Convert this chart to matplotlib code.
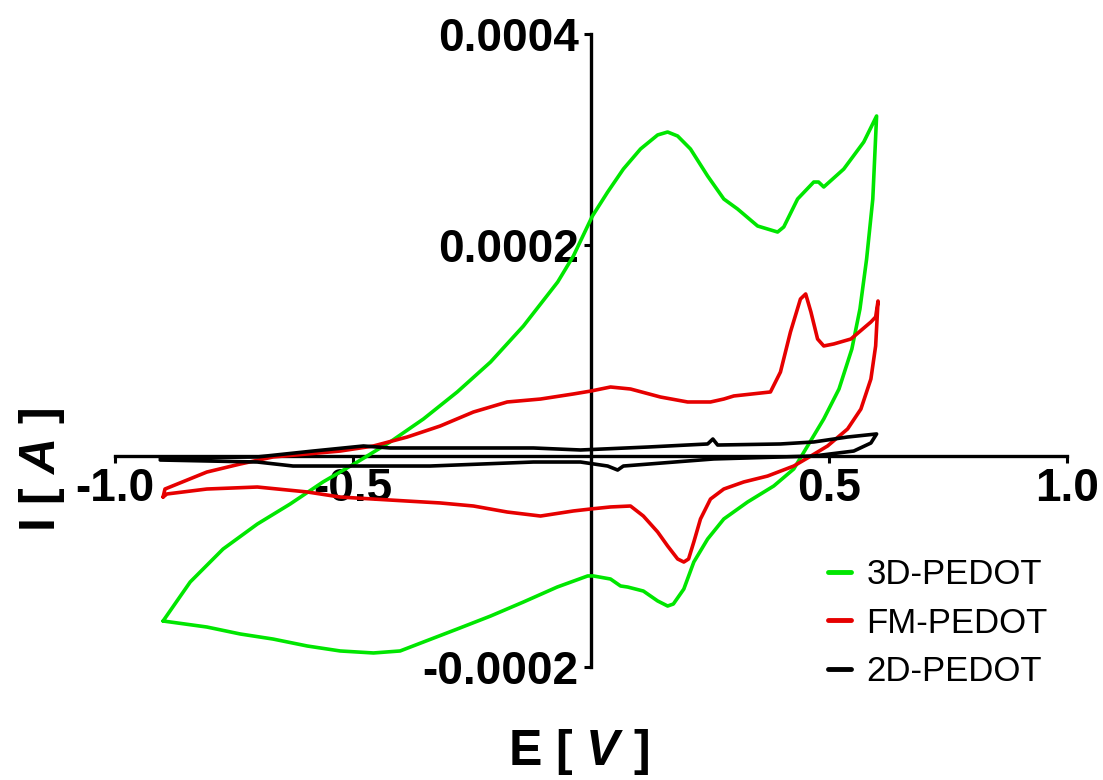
import matplotlib
matplotlib.use('Agg')
import matplotlib.pyplot as plt
import numpy as np

plt.rcParams['font.family'] = ['Liberation Sans', 'DejaVu Sans']
plt.rcParams['mathtext.fontset'] = 'custom'
plt.rcParams['mathtext.it'] = 'Liberation Sans:italic:bold'
plt.rcParams['mathtext.rm'] = 'Liberation Sans:bold'
plt.rcParams['mathtext.bf'] = 'Liberation Sans:bold'

series_names = ['3D-PEDOT', 'FM-PEDOT', '2D-PEDOT']
series_colors = ['#00e600', '#e60000', '#000000']

# currents in units of 1e-4 A
I_UNIT = 1e-4

pedot3d_E = [-0.899, -0.842, -0.773, -0.701, -0.632, -0.563, -0.491, -0.422, -0.352, -0.281,
             -0.211, -0.142, -0.070, -0.037, 0.003, 0.035, 0.068, 0.104, 0.140, 0.161,
             0.182, 0.209, 0.245, 0.279, 0.308, 0.350, 0.392, 0.405, 0.434, 0.468,
             0.478, 0.489, 0.531, 0.573, 0.600,
             0.592, 0.579, 0.565, 0.548, 0.521, 0.489, 0.455, 0.426, 0.384, 0.329,
             0.279, 0.245, 0.216, 0.195, 0.173, 0.161, 0.140, 0.110, 0.077, 0.062,
             0.041, 0.005, -0.007, -0.071, -0.142, -0.211, -0.281, -0.352, -0.401, -0.457,
             -0.527, -0.596, -0.668, -0.737, -0.807, -0.899]
pedot3d_I = [-1.564, -1.194, -0.882, -0.645, -0.455, -0.246, -0.057, 0.133, 0.351, 0.607,
             0.891, 1.232, 1.649, 1.896, 2.275, 2.502, 2.720, 2.910, 3.043, 3.071,
             3.033, 2.910, 2.654, 2.436, 2.341, 2.180, 2.123, 2.171, 2.436, 2.597,
             2.597, 2.550, 2.720, 2.976, 3.223,
             2.436, 1.867, 1.393, 1.014, 0.635, 0.351, 0.095, -0.123, -0.284, -0.436,
             -0.597, -0.787, -1.005, -1.261, -1.403, -1.422, -1.374, -1.280, -1.242, -1.232,
             -1.166, -1.137, -1.137, -1.242, -1.384, -1.517, -1.640, -1.763, -1.848, -1.867,
             -1.848, -1.801, -1.735, -1.687, -1.621, -1.564]

fmpedot_E = [-0.899, -0.895, -0.807, -0.737, -0.668, -0.596, -0.527, -0.457, -0.386, -0.317,
             -0.247, -0.176, -0.106, -0.037, 0.000, 0.041, 0.083, 0.146, 0.203, 0.251,
             0.279, 0.300, 0.377, 0.398, 0.419, 0.440, 0.451, 0.462, 0.476, 0.489,
             0.510, 0.546, 0.588, 0.598, 0.603,
             0.598, 0.588, 0.567, 0.539, 0.497, 0.462, 0.426, 0.371, 0.321, 0.279,
             0.251, 0.230, 0.216, 0.205, 0.195, 0.182, 0.161, 0.140, 0.110, 0.083,
             0.041, 0.000, -0.037, -0.106, -0.176, -0.247, -0.317, -0.386, -0.457, -0.527,
             -0.596, -0.701, -0.807, -0.891, -0.899]
fmpedot_I = [-0.389, -0.313, -0.152, -0.076, -0.009, 0.019, 0.047, 0.095, 0.180, 0.284,
             0.417, 0.512, 0.540, 0.588, 0.616, 0.654, 0.635, 0.559, 0.512, 0.512,
             0.540, 0.569, 0.607, 0.796, 1.175, 1.488, 1.536, 1.365, 1.109, 1.043,
             1.062, 1.109, 1.270, 1.318, 1.469,
             1.043, 0.730, 0.445, 0.256, 0.095, 0.000, -0.095, -0.190, -0.246, -0.313,
             -0.408, -0.597, -0.815, -0.976, -1.005, -0.976, -0.853, -0.720, -0.569, -0.474,
             -0.483, -0.502, -0.521, -0.569, -0.531, -0.474, -0.445, -0.427, -0.408, -0.389,
             -0.341, -0.294, -0.313, -0.360, -0.389]

pedot2d_E = [-0.905, -0.701, -0.584, -0.478, -0.422, -0.296, -0.121, -0.022, 0.119, 0.245,
             0.256, 0.266, 0.398, 0.468, 0.539, 0.600,
             0.588, 0.552, 0.468, 0.258, 0.068, 0.056, 0.035, -0.022, -0.121, -0.338,
             -0.626, -0.701, -0.905]
pedot2d_I = [-0.019, -0.009, 0.047, 0.095, 0.076, 0.076, 0.076, 0.057, 0.085, 0.114,
             0.161, 0.104, 0.114, 0.133, 0.180, 0.209,
             0.123, 0.047, 0.000, -0.028, -0.095, -0.133, -0.095, -0.057, -0.057, -0.095,
             -0.095, -0.057, -0.038]

xtick_vals = [-1.0, -0.5, 0.5, 1.0]
xtick_labels = ['-1.0', '-0.5', '0.5', '1.0']
ytick_vals = [-0.0002, 0.0002, 0.0004]
ytick_labels = ['-0.0002', '0.0002', '0.0004']

fig = plt.figure(figsize=(11.03, 7.8), dpi=100)
ax = fig.add_axes([115/1103, 1 - 667/780, (1067 - 115)/1103, (667 - 34)/780])

data = [(pedot3d_E, pedot3d_I), (fmpedot_E, fmpedot_I), (pedot2d_E, pedot2d_I)]
for (E, I), name, col in zip(data, series_names, series_colors):
    ax.plot(E, np.array(I) * I_UNIT, color=col, lw=2.6, label=name, zorder=3,
            solid_joinstyle='round', solid_capstyle='round')

ax.set_xlim(-1.0, 1.0)
ax.set_ylim(-0.0002, 0.0004)

for s in ['top', 'right']:
    ax.spines[s].set_visible(False)
ax.spines['left'].set_position(('data', 0))
ax.spines['bottom'].set_position(('data', 0))
for s in ['left', 'bottom']:
    ax.spines[s].set_linewidth(2.4)
    ax.spines[s].set_zorder(2.6)

ax.set_xticks(xtick_vals)
ax.set_xticklabels(xtick_labels, fontsize=33, fontweight='bold')
ax.set_yticks(ytick_vals)
ax.set_yticklabels(ytick_labels, fontsize=33, fontweight='bold')
ax.tick_params(axis='x', direction='out', length=5, width=2.2, pad=3)
ax.tick_params(axis='y', direction='out', length=5, width=2.2, pad=4)

fig.text(578/1103, 1 - 752/780, 'E [ $\\mathit{V}$ ]', fontsize=36, fontweight='bold',
         ha='center', va='center')
fig.text(42/1103, 1 - 470/780, 'I [ $\\mathit{A}$ ]', fontsize=36, fontweight='bold',
         ha='center', va='center', rotation=90)

leg = fig.legend(loc='upper left', bbox_to_anchor=(828/1103, 1 - 558/780), frameon=False,
                 fontsize=25, handlelength=0.65, handletextpad=0.45, labelspacing=0.45,
                 borderpad=0, borderaxespad=0)
for h in leg.get_lines():
    h.set_linewidth(3.5)

fig.savefig('out.png', dpi=100)
